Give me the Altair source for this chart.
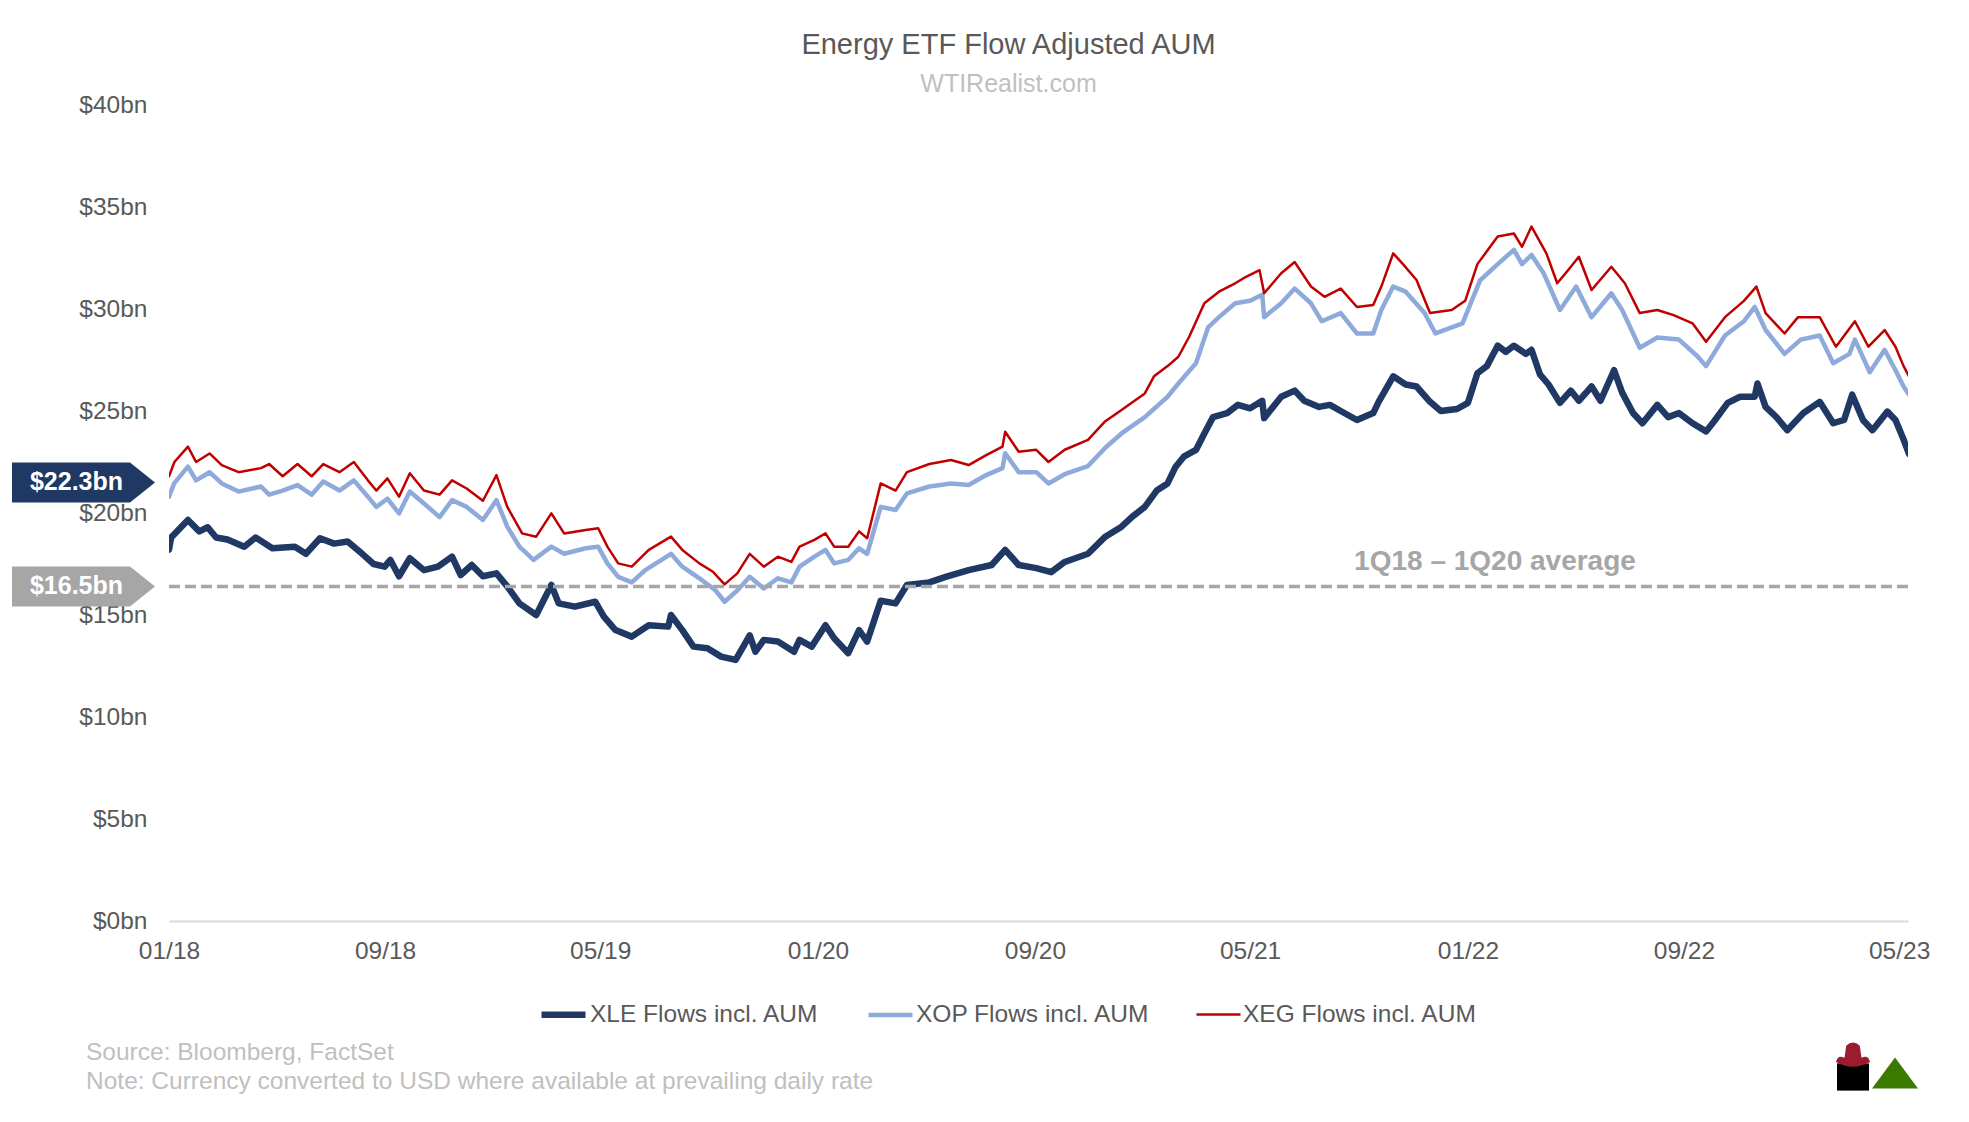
import altair as alt
import pandas as pd

SERIES = ["XLE Flows incl. AUM", "XOP Flows incl. AUM", "XEG Flows incl. AUM"]
COLORS = ["#1f3864", "#8eaadb", "#c00000"]
WIDTHS = [6.5, 2.5, 2.5]

# (months since Jan 2018, $bn)
XLE = [(0.0, 18.2), (0.08, 18.8), (0.7, 19.66), (1.12, 19.1), (1.43, 19.3), (1.74, 18.8), (2.16, 18.7),
       (2.78, 18.35), (3.2, 18.8), (3.82, 18.27), (4.65, 18.35), (5.06, 18.0), (5.58, 18.76), (6.1, 18.5),
       (6.6, 18.6), (7.14, 18.0), (7.56, 17.5), (7.97, 17.37), (8.18, 17.7), (8.5, 16.9), (8.9, 17.78),
       (9.42, 17.2), (9.94, 17.37), (10.46, 17.86), (10.78, 16.96), (11.19, 17.45), (11.6, 16.9),
       (12.1, 17.04), (12.5, 16.4), (12.95, 15.57), (13.57, 15.0), (14.13, 16.47), (14.4, 15.57),
       (15.0, 15.41), (15.75, 15.65), (16.07, 14.92), (16.5, 14.26), (17.1, 13.94), (17.73, 14.5),
       (18.45, 14.43), (18.55, 15.0), (18.97, 14.26), (19.38, 13.45), (19.9, 13.37), (20.4, 12.96),
       (20.94, 12.8), (21.46, 14.0), (21.67, 13.2), (21.98, 13.78), (22.5, 13.7), (23.1, 13.2),
       (23.3, 13.78), (23.75, 13.45), (24.26, 14.5), (24.58, 13.86), (25.1, 13.13), (25.5, 14.26),
       (25.8, 13.7), (26.3, 15.7), (26.85, 15.57), (27.27, 16.47), (28.1, 16.6), (28.7, 16.87),
       (29.55, 17.2), (30.4, 17.45), (30.9, 18.19), (31.4, 17.45), (32.05, 17.3), (32.6, 17.1),
       (33.1, 17.6), (33.96, 18.0), (34.6, 18.84), (35.2, 19.33), (35.6, 19.82), (36.06, 20.3),
       (36.5, 21.1), (36.9, 21.45), (37.2, 22.27), (37.5, 22.76), (37.95, 23.09), (38.26, 23.9),
       (38.58, 24.7), (39.1, 24.9), (39.5, 25.3), (39.95, 25.13), (40.4, 25.5), (40.47, 24.65),
       (41.1, 25.7), (41.6, 26.0), (41.95, 25.5), (42.5, 25.2), (42.9, 25.3), (43.3, 25.0),
       (43.9, 24.56), (44.5, 24.9), (44.7, 25.45), (45.24, 26.7), (45.7, 26.3), (46.1, 26.2),
       (46.6, 25.45), (47.0, 25.0), (47.6, 25.1), (48.0, 25.4), (48.35, 26.85), (48.7, 27.2),
       (49.1, 28.2), (49.4, 27.9), (49.7, 28.2), (50.14, 27.8), (50.35, 28.0), (50.66, 26.8),
       (50.98, 26.3), (51.4, 25.4), (51.8, 26.0), (52.1, 25.5), (52.57, 26.2), (52.9, 25.5),
       (53.4, 27.0), (53.7, 25.9), (54.1, 24.9), (54.45, 24.4), (55.0, 25.3), (55.4, 24.7),
       (55.8, 24.9), (56.3, 24.4), (56.8, 24.0), (57.1, 24.5), (57.6, 25.4), (58.06, 25.7),
       (58.6, 25.7), (58.7, 26.35), (59.0, 25.2), (59.4, 24.7), (59.8, 24.06), (60.4, 24.9),
       (61.0, 25.45), (61.5, 24.4), (61.9, 24.56), (62.2, 25.8), (62.6, 24.56), (62.95, 24.06),
       (63.5, 24.97), (63.8, 24.56), (64.1, 23.6), (64.3, 22.9)]

XOP = [(0.0, 20.8), (0.19, 21.45), (0.7, 22.27), (1.0, 21.6), (1.5, 22.0), (1.95, 21.45), (2.57, 21.05),
       (3.4, 21.3), (3.7, 20.9), (4.2, 21.1), (4.75, 21.37), (5.27, 20.9), (5.7, 21.54), (6.3, 21.1),
       (6.83, 21.6), (7.35, 20.8), (7.66, 20.3), (8.07, 20.7), (8.5, 19.98), (8.9, 21.05), (9.42, 20.47),
       (10.0, 19.8), (10.46, 20.63), (11.0, 20.3), (11.6, 19.66), (12.1, 20.63), (12.5, 19.33),
       (12.95, 18.35), (13.47, 17.7), (14.13, 18.35), (14.6, 18.0), (15.4, 18.27), (15.86, 18.35),
       (16.2, 17.53), (16.6, 16.87), (17.1, 16.6), (17.6, 17.2), (18.55, 18.0), (18.97, 17.37),
       (19.6, 16.8), (20.2, 16.2), (20.53, 15.65), (21.0, 16.2), (21.46, 16.87), (21.98, 16.3),
       (22.5, 16.8), (23.0, 16.6), (23.3, 17.37), (23.85, 17.86), (24.26, 18.19), (24.58, 17.53),
       (25.1, 17.7), (25.5, 18.27), (25.8, 18.0), (26.3, 20.3), (26.85, 20.15), (27.27, 20.96),
       (28.1, 21.3), (28.9, 21.45), (29.55, 21.37), (30.2, 21.86), (30.8, 22.2), (30.9, 22.93),
       (31.4, 22.0), (32.05, 22.0), (32.5, 21.45), (33.1, 21.9), (33.96, 22.3), (34.6, 23.2),
       (35.2, 23.9), (36.06, 24.7), (36.9, 25.7), (37.3, 26.35), (37.95, 27.34), (38.4, 29.1),
       (38.8, 29.6), (39.4, 30.28), (39.95, 30.4), (40.4, 30.7), (40.47, 29.6), (41.1, 30.28),
       (41.6, 31.0), (42.2, 30.28), (42.6, 29.4), (43.3, 29.8), (43.9, 28.8), (44.5, 28.8),
       (44.8, 29.95), (45.24, 31.1), (45.7, 30.85), (46.4, 29.8), (46.8, 28.8), (47.4, 29.1),
       (47.8, 29.3), (48.45, 31.4), (49.1, 32.2), (49.7, 32.9), (50.0, 32.2), (50.35, 32.65),
       (50.8, 31.75), (51.4, 29.95), (52.0, 31.1), (52.57, 29.6), (53.3, 30.77), (53.7, 29.95),
       (54.35, 28.1), (55.0, 28.6), (55.8, 28.5), (56.5, 27.66), (56.8, 27.2), (57.5, 28.7),
       (58.2, 29.4), (58.6, 30.1), (59.0, 28.97), (59.7, 27.8), (60.3, 28.5), (61.0, 28.7),
       (61.5, 27.34), (62.1, 27.8), (62.3, 28.5), (62.85, 26.9), (63.4, 28.0), (63.8, 27.0),
       (64.1, 26.2), (64.3, 25.8)]

XEG = [(0.0, 21.8), (0.2, 22.5), (0.7, 23.25), (1.0, 22.5), (1.5, 22.92), (1.95, 22.35), (2.57, 22.0),
       (3.4, 22.2), (3.7, 22.4), (4.2, 21.8), (4.75, 22.4), (5.27, 21.8), (5.7, 22.4), (6.3, 22.0),
       (6.83, 22.5), (7.35, 21.6), (7.66, 21.1), (8.07, 21.7), (8.5, 20.8), (8.9, 21.95), (9.42, 21.1),
       (10.0, 20.9), (10.46, 21.6), (11.0, 21.2), (11.6, 20.6), (12.1, 21.86), (12.5, 20.3),
       (13.05, 19.0), (13.57, 18.84), (14.13, 19.98), (14.6, 19.0), (15.4, 19.17), (15.86, 19.25),
       (16.2, 18.35), (16.6, 17.53), (17.1, 17.37), (17.73, 18.19), (18.55, 18.84), (18.97, 18.19),
       (19.6, 17.53), (20.1, 17.12), (20.53, 16.5), (21.0, 17.04), (21.46, 18.0), (21.98, 17.37),
       (22.5, 17.86), (23.0, 17.6), (23.3, 18.35), (23.85, 18.68), (24.26, 19.0), (24.58, 18.35),
       (25.1, 18.35), (25.5, 19.1), (25.8, 18.76), (26.3, 21.45), (26.85, 21.1), (27.27, 22.0),
       (28.1, 22.4), (28.9, 22.6), (29.55, 22.35), (30.2, 22.84), (30.8, 23.25), (30.9, 23.98),
       (31.4, 23.0), (32.05, 23.1), (32.5, 22.5), (33.1, 23.1), (33.96, 23.58), (34.6, 24.5),
       (35.2, 25.05), (36.06, 25.86), (36.4, 26.7), (36.9, 27.2), (37.3, 27.66), (37.7, 28.64),
       (38.26, 30.28), (38.8, 30.85), (39.4, 31.26), (39.8, 31.58), (40.3, 31.9), (40.47, 30.77),
       (41.1, 31.75), (41.6, 32.3), (42.2, 31.1), (42.7, 30.6), (43.3, 31.0), (43.9, 30.1),
       (44.5, 30.2), (44.8, 31.1), (45.24, 32.73), (45.6, 32.2), (46.1, 31.42), (46.6, 29.8),
       (47.4, 29.95), (47.9, 30.4), (48.35, 32.2), (49.1, 33.55), (49.7, 33.7), (50.0, 33.05),
       (50.35, 34.04), (50.9, 32.73), (51.3, 31.26), (51.7, 31.9), (52.1, 32.56), (52.57, 30.93),
       (53.3, 32.07), (53.8, 31.26), (54.35, 29.8), (55.0, 29.95), (55.6, 29.7), (56.3, 29.3),
       (56.8, 28.4), (57.5, 29.6), (58.2, 30.4), (58.66, 31.1), (59.0, 29.8), (59.7, 28.8),
       (60.2, 29.6), (61.0, 29.6), (61.6, 28.15), (62.3, 29.4), (62.8, 28.15), (63.4, 28.97),
       (63.8, 28.15), (64.1, 27.2), (64.3, 26.7)]

Y_TICKS = [0, 5, 10, 15, 20, 25, 30, 35, 40]
X_TICKS = [(2018, 1), (2018, 9), (2019, 5), (2020, 1), (2020, 9), (2021, 5), (2022, 1), (2022, 9), (2023, 5)]

AVG_VALUE = 16.4
AVG_LABEL = "$16.5bn"
LAST_LABEL = "$22.3bn"
LAST_LABEL_Y = 21.5
AVG_TEXT = "1Q18 – 1Q20 average"
AVG_TEXT_MONTH = 49.0
AVG_TEXT_Y = 17.6

TITLE = "Energy ETF Flow Adjusted AUM"
SUBTITLE = "WTIRealist.com"
FOOTNOTES = ["Source: Bloomberg, FactSet", "Note: Currency converted to USD where available at prevailing daily rate"]

FONT = "Liberation Sans"
GREY_TXT = "#595959"
LIGHT_TXT = "#bfbfbf"
AVG_GREY = "#a6a6a6"

START = pd.Timestamp("2018-01-01")


def to_date(m):
    return START + pd.Timedelta(days=m * 30.4375)


rows = []
for name, series in zip(SERIES, [XLE, XOP, XEG]):
    for m, v in series:
        rows.append({"date": to_date(m), "value": v, "series": name})
df = pd.DataFrame(rows)

W, H = 1739, 816
x_scale = alt.Scale(domain=[alt.DateTime(year=2018, month=1, date=1),
                            alt.DateTime(year=2023, month=5, date=11)])
y_scale = alt.Scale(domain=[0, 40], nice=False, zero=True)

LEGEND = dict(title=None, orient="none", legendX=369, legendY=884, direction="horizontal",
              symbolType="stroke", symbolSize=44 * 44, labelFont=FONT, labelFontSize=24.5,
              labelColor=GREY_TXT, labelOffset=1, columnPadding=40, padding=0, labelLimit=500)

lines = alt.Chart(df).mark_line(strokeJoin="round", strokeCap="round", clip=True).encode(
    x=alt.X("date:T", scale=x_scale, title=None,
            axis=alt.Axis(values=[alt.DateTime(year=y, month=mo, date=1) for y, mo in X_TICKS],
                          format="%m/%y", grid=False, ticks=False, domain=True,
                          domainColor="#d9d9d9", domainWidth=2, labelPadding=18,
                          labelFontSize=24.5, labelColor=GREY_TXT, labelFont=FONT,
                          labelOverlap=False, labelFlush=False)),
    y=alt.Y("value:Q", scale=y_scale, title=None,
            axis=alt.Axis(values=Y_TICKS, labelExpr="'$' + datum.value + 'bn'", grid=False,
                          ticks=False, domain=False, labelPadding=22, labelFontSize=24.5,
                          labelColor=GREY_TXT, labelFont=FONT)),
    color=alt.Color("series:N", scale=alt.Scale(domain=SERIES, range=COLORS),
                    legend=alt.Legend(**LEGEND)),
    strokeWidth=alt.StrokeWidth("series:N", scale=alt.Scale(domain=SERIES, range=WIDTHS),
                                legend=alt.Legend(**LEGEND)),
    order=alt.Order("series:N"),
)

avg_df = pd.DataFrame({"value": [AVG_VALUE]})
avg_rule = alt.Chart(avg_df).mark_rule(color=AVG_GREY, strokeWidth=3.5, strokeDash=[11, 5]).encode(
    y=alt.Y("value:Q", scale=y_scale, title=None)
)

avg_text_df = pd.DataFrame({"date": [to_date(AVG_TEXT_MONTH)], "value": [AVG_TEXT_Y], "label": [AVG_TEXT]})
avg_text = alt.Chart(avg_text_df).mark_text(font=FONT, fontSize=28, fontWeight="bold", color=AVG_GREY,
                                            align="center", baseline="middle").encode(
    x=alt.X("date:T", scale=x_scale, title=None),
    y=alt.Y("value:Q", scale=y_scale, title=None),
    text="label:N",
)

tag_df = pd.DataFrame({"value": [LAST_LABEL_Y, AVG_VALUE], "label": [LAST_LABEL, AVG_LABEL],
                       "fill": ["#1f3864", AVG_GREY]})
TAG_PATH = "M-1,-0.28L0.65,-0.28L1,0L0.65,0.28L-1,0.28Z"
tags = alt.Chart(tag_df).mark_point(shape=TAG_PATH, filled=True, opacity=1, size=143 * 143,
                                    strokeWidth=0).encode(
    x=alt.value(-85.5),
    y=alt.Y("value:Q", scale=y_scale, title=None),
    fill=alt.Fill("fill:N", scale=None),
)
tag_text = alt.Chart(tag_df).mark_text(font=FONT, fontSize=25, fontWeight="bold", color="white",
                                       align="center", baseline="middle").encode(
    x=alt.value(-92.5),
    y=alt.Y("value:Q", scale=y_scale, title=None),
    text="label:N",
)

foot_df = pd.DataFrame({"label": FOOTNOTES, "row": [0, 1]})
foot = alt.Chart(foot_df).mark_text(font=FONT, fontSize=24.5, color=LIGHT_TXT, align="left",
                                    baseline="middle").encode(
    x=alt.value(-83),
    y=alt.value(948),
    text="label:N",
).transform_filter("datum.row == 0")
foot2 = alt.Chart(foot_df).mark_text(font=FONT, fontSize=24.5, color=LIGHT_TXT, align="left",
                                     baseline="middle").encode(
    x=alt.value(-83),
    y=alt.value(977),
    text="label:N",
).transform_filter("datum.row == 1")

logo_df = pd.DataFrame({"k": [0]})
logo_tri = alt.Chart(logo_df).mark_point(shape="M-1,0.67L0,-0.67L1,0.67Z", filled=True, opacity=1,
                                         size=46 * 46, color="#3b7a00", strokeWidth=0).encode(
    x=alt.value(1726), y=alt.value(968))
logo_barrel = alt.Chart(logo_df).mark_point(shape="M-1,-0.85L1,-0.85L1,0.85L-1,0.85Z", filled=True,
                                            opacity=1, size=32 * 32, color="#000000",
                                            strokeWidth=0).encode(
    x=alt.value(1684), y=alt.value(972))
logo_hat = alt.Chart(logo_df).mark_point(
    shape="M-1,0.35Q-0.9,-0.1-0.5,0.1L-0.4,-0.6Q0,-1 0.4,-0.6L0.5,0.1Q0.9,-0.1 1,0.35Q0,0.9-1,0.35Z",
    filled=True, opacity=1, size=34 * 34, color="#9b1b30", strokeWidth=0).encode(
    x=alt.value(1684), y=alt.value(951))

chart = alt.layer(lines, avg_rule, avg_text, tags, tag_text, foot, foot2, logo_barrel, logo_hat,
                  logo_tri).properties(
    width=W, height=H,
    title=alt.Title(TITLE, subtitle=SUBTITLE, anchor="middle", dx=-30, dy=19, offset=14, font=FONT,
                    fontSize=29, fontWeight="normal", color=GREY_TXT, subtitleFont=FONT,
                    subtitleFontSize=25, subtitleColor=LIGHT_TXT, subtitlePadding=12),
    autosize=alt.AutoSizeParams(type="none"),
    padding={"left": 161, "top": 97, "right": 45, "bottom": 183},
    background="white",
).configure_view(stroke=None)

chart.save("out.html", embed_options={"renderer": "svg", "actions": False})
